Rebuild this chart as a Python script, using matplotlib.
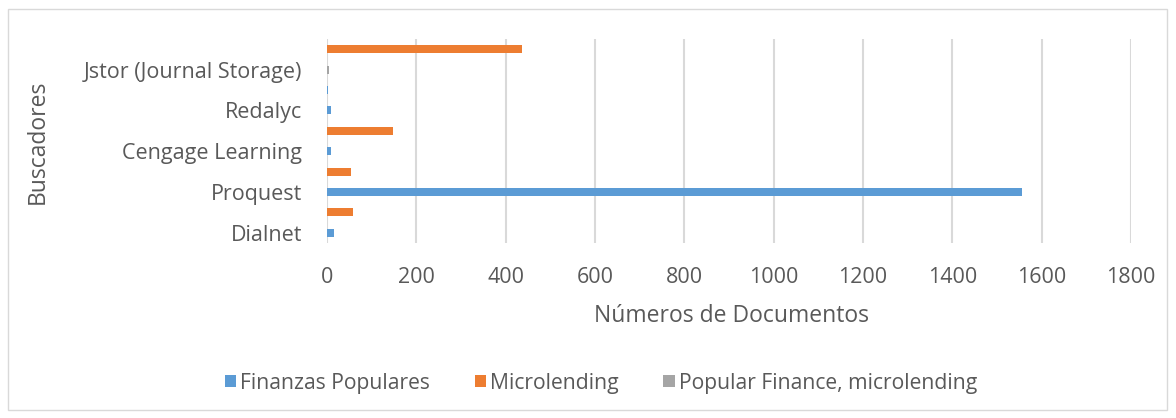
import matplotlib
matplotlib.use("Agg")
import matplotlib.pyplot as plt
from matplotlib.patches import Rectangle
import numpy as np

plt.rcParams['font.family'] = ['Open Sans', 'DejaVu Sans']

# Excel category slots (labels shown on every other slot)
slot_labels = ["Dialnet", "", "Proquest", "", "Cengage Learning", "",
               "Redalyc", "", "Jstor (Journal Storage)", ""]
finanzas_populares = [15, 0, 1557, 0, 8, 0, 9, 2, 0, 0]
microlending = [0, 59, 0, 53, 0, 147, 0, 0, 0, 436]
popular_finance = [0, 0, 0, 0, 0, 0, 0, 0, 4, 0]
series_names = ["Finanzas Populares", "Microlending", "Popular Finance, microlending"]
colors = ["#5B9BD5", "#ED7D31", "#A5A5A5"]
x_ticks = [0, 200, 400, 600, 800, 1000, 1200, 1400, 1600, 1800]

W, H = 1176, 418
TXT = "#595959"
fig = plt.figure(figsize=(W / 100, H / 100), dpi=100)
fig.patches.append(Rectangle((8 / W, 8 / H), 1159 / W, 401 / H, transform=fig.transFigure,
                             fill=False, edgecolor="#D9D9D9", linewidth=1.0))

ax = fig.add_axes([327 / W, 1 - 243 / H, (1131 - 327) / W, (243 - 39) / H])
y = np.arange(len(slot_labels))
bh = 0.39
for vals, name, c in zip([finanzas_populares, microlending, popular_finance], series_names, colors):
    ax.barh(y, vals, height=bh, color=c, label=name, zorder=3)

ax.set_xlim(0, 1800)
ax.set_ylim(-0.5, len(slot_labels) - 0.5)
ax.set_xticks(x_ticks)
ax.set_xticklabels([str(v) for v in x_ticks])
ax.set_yticks(y)
ax.set_yticklabels(slot_labels)
ax.tick_params(axis='both', length=0, labelsize=15.5, colors=TXT)
ax.tick_params(axis='x', pad=17)
ax.tick_params(axis='y', pad=18)
ax.grid(axis='x', color="#D9D9D9", linewidth=1.5, zorder=0)
for s in ax.spines.values():
    s.set_visible(False)

fig.text(731 / W, 1 - 316 / H, "Números de Documentos", fontsize=16.5, color=TXT,
         ha='center', va='center')
fig.text(38 / W, 1 - 142 / H, "Buscadores", fontsize=16.5, color=TXT,
         ha='center', va='center', rotation=90)

leg = fig.legend(loc='center', bbox_to_anchor=(601 / W, 1 - 383 / H), ncol=3, frameon=False,
                 fontsize=15.2, handlelength=0.55, handleheight=0.55, handletextpad=0.2,
                 columnspacing=2.1)
for t in leg.get_texts():
    t.set_color(TXT)

fig.savefig("out.png", dpi=100)
